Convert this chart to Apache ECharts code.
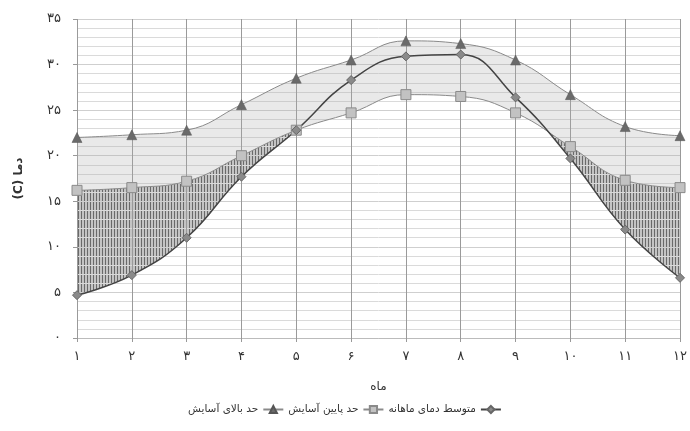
<!DOCTYPE html>
<html><head><meta charset="utf-8">
<script src="https://cdn.jsdelivr.net/npm/echarts@6/dist/echarts.min.js"></script>
<style>html,body{margin:0;padding:0;background:#fff}#c{width:690px;height:431px}</style>
</head><body><div id="c"></div>
<script>
const months = ['۱','۲','۳','۴','۵','۶','۷','۸','۹','۱۰','۱۱','۱۲'];
const yTickLabels = {0:'۰',5:'۵',10:'۱۰',15:'۱۵',20:'۲۰',25:'۲۵',30:'۳۰',35:'۳۵'};
const meanTemp = [4.7, 6.9, 11.0, 17.7, 22.8, 28.3, 30.9, 31.1, 26.4, 19.7, 11.9, 6.6];
const lowerComfort = [16.2, 16.5, 17.2, 20.0, 22.8, 24.7, 26.7, 26.5, 24.7, 21.0, 17.3, 16.5];
const upperComfort = [22.0, 22.3, 22.8, 25.6, 28.5, 30.5, 32.6, 32.3, 30.5, 26.7, 23.2, 22.2];
const names = {upper:'حد بالای آسایش', lower:'حد پایین آسایش', mean:'متوسط دمای ماهانه'};

const FONT = 'DejaVu Sans';
const SM = 0.45;
// hatch pattern
const pc = document.createElement('canvas');
pc.width = 3; pc.height = 4;
const g = pc.getContext('2d');
g.fillStyle = '#c4c4c4'; g.fillRect(0,0,3,4);
g.fillStyle = '#6a6a6a'; g.fillRect(0,0,1,4);

const bandDiff = upperComfort.map((v,i)=>+(v - lowerComfort[i]).toFixed(2));

const chart = echarts.init(document.getElementById('c'));
chart.setOption({
  animation:false,
  textStyle:{fontFamily:FONT},
  grid:{left:77,right:8,top:19,bottom:93},
  legend:{
    bottom:11, left:'center', itemGap:4, align:'right', itemWidth:20, itemHeight:9,
    textStyle:{fontFamily:FONT,fontSize:10.5,color:'#333'},
    data:[names.upper,names.lower,names.mean]
  },
  xAxis:{
    type:'category', data:months, boundaryGap:false, z:3,
    name:'ماه', nameLocation:'middle', nameGap:43,
    nameTextStyle:{fontFamily:FONT,fontSize:12,color:'#333'},
    axisLine:{lineStyle:{color:'#bbb'}},
    axisTick:{show:true,length:4,lineStyle:{color:'#999'}},
    axisLabel:{fontFamily:FONT,fontSize:13,color:'#333',margin:12},
    splitLine:{show:true,lineStyle:{color:'#9a9a9a',width:1}}
  },
  yAxis:{
    type:'value', min:0, max:35, interval:5, z:3,
    name:'(C) دما', nameLocation:'middle', nameGap:52, nameRotate:90,
    nameTextStyle:{fontFamily:FONT,fontSize:12,color:'#333',fontWeight:'bold'},
    axisLine:{show:false},
    axisTick:{show:true,length:4,lineStyle:{color:'#999'}},
    axisLabel:{fontFamily:FONT,fontSize:13,color:'#333',margin:16,formatter:v=>yTickLabels[v]},
    splitLine:{show:true,lineStyle:{color:'#cfcfcf'}},
    minorTick:{show:false,splitNumber:5},
    minorSplitLine:{show:true,lineStyle:{color:'#dadada'}}
  },
  series:[
    {name:'hatch',type:'line',data:lowerComfort,smooth:SM,symbol:'none',z:1,silent:true,
     lineStyle:{width:0,opacity:0},areaStyle:{color:{image:pc,repeat:'repeat'},opacity:1,origin:'start'}},
    {name:'white',type:'line',data:meanTemp,smooth:SM,symbol:'none',z:2,silent:true,
     lineStyle:{width:0,opacity:0},areaStyle:{color:'#ffffff',opacity:1,origin:'start'}},
    {name:'bandBase',type:'line',data:lowerComfort,stack:'band',smooth:SM,symbol:'none',z:4,silent:true,
     lineStyle:{width:0,opacity:0}},
    {name:'bandDiff',type:'line',data:bandDiff,stack:'band',smooth:SM,symbol:'none',z:4,silent:true,
     lineStyle:{width:0,opacity:0},areaStyle:{color:'rgba(170,170,170,0.26)',opacity:1}},
    {name:names.upper,type:'line',data:upperComfort,smooth:SM,z:6,
     symbol:'triangle',symbolSize:10,
     lineStyle:{color:'#8a8a8a',width:1},
     itemStyle:{color:'#6a6a6a',borderColor:'#555',borderWidth:0.5}},
    {name:names.lower,type:'line',data:lowerComfort,smooth:SM,z:6,
     symbol:'rect',symbolSize:10,
     lineStyle:{color:'#8a8a8a',width:1},
     itemStyle:{color:'#c2c2c2',borderColor:'#8a8a8a',borderWidth:1}},
    {name:names.mean,type:'line',data:meanTemp,smooth:SM,z:6,
     symbol:'diamond',symbolSize:9,
     lineStyle:{color:'#444',width:1.5},
     itemStyle:{color:'#8a8a8a',borderColor:'#666',borderWidth:1}}
  ]
});
</script></body></html>
